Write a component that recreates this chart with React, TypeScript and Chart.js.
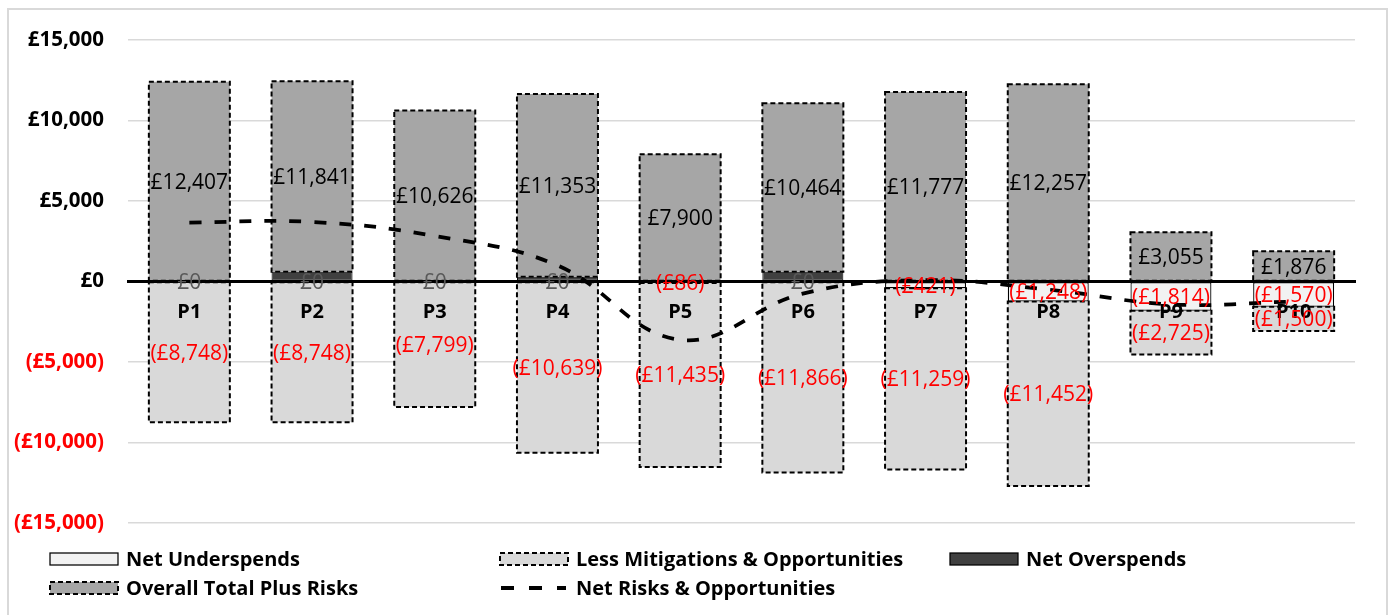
import React, { useEffect, useRef } from 'react';
import { Chart, registerables } from 'chart.js';

Chart.register(...registerables);

const categories = ['P1', 'P2', 'P3', 'P4', 'P5', 'P6', 'P7', 'P8', 'P9', 'P10'];
const netUnderspends = [0, 0, 0, 0, -86, 0, -421, -1248, -1814, -1570];
const lessMitigations = [-8748, -8748, -7799, -10639, -11435, -11866, -11259, -11452, -2725, -1500];
const netOverspends = [0, 600, 0, 300, 0, 600, 0, 0, 0, 0];
const overallTotal = [12407, 11841, 10626, 11353, 7900, 10464, 11777, 12257, 3055, 1876];
const netRisks = [3660, 3700, 2830, 1000, -3620, -750, 80, -500, -1420, -1250];
const yMin = -15000;
const yMax = 15000;
const yStep = 5000;

const FONT = '"Open Sans", "Noto Sans", sans-serif';
const RED = '#ff0000';

const fmt = (v: number) =>
  v < 0 ? `(£${Math.abs(v).toLocaleString('en-GB')})` : `£${v.toLocaleString('en-GB')}`;

const framePlugin = {
  id: 'frame',
  beforeDraw(chart: any) {
    const { ctx, width, height } = chart;
    ctx.save();
    ctx.fillStyle = '#ffffff';
    ctx.fillRect(0, 0, width, height);
    ctx.strokeStyle = '#d9d9d9';
    ctx.lineWidth = 2;
    ctx.strokeRect(1, 1, width - 2, height + 4);
    ctx.restore();
  },
};

const dashedBorderPlugin = {
  id: 'dashedBorder',
  afterDatasetDraw(chart: any, args: any) {
    const ds = chart.data.datasets[args.index];
    if (!ds.dashedBorder) return;
    const { ctx } = chart;
    ctx.save();
    ctx.strokeStyle = '#000';
    ctx.lineWidth = 2;
    ctx.setLineDash([5, 3]);
    args.meta.data.forEach((el: any) => {
      const { x, y, base, width } = el.getProps(['x', 'y', 'base', 'width'], true);
      const h = Math.abs(base - y);
      if (h < 0.5) return;
      ctx.strokeRect(x - width / 2, Math.min(y, base), width, h);
    });
    ctx.restore();
  },
};

const labelPlugin = {
  id: 'barLabels',
  afterDraw(chart: any) {
    const { ctx } = chart;
    ctx.save();
    ctx.font = `21px ${FONT}`;
    ctx.textAlign = 'center';
    ctx.textBaseline = 'middle';
    chart.data.datasets.forEach((ds: any, i: number) => {
      if (!ds.labelColor) return;
      const meta = chart.getDatasetMeta(i);
      meta.data.forEach((el: any, j: number) => {
        const v = ds.data[j];
        const { x, y, base } = el.getProps(['x', 'y', 'base'], true);
        ctx.fillStyle = ds.labelColor(v);
        ctx.fillText(fmt(v), x, (y + base) / 2 + 1.5);
      });
    });
    ctx.restore();
  },
};

const legendPlugin = {
  id: 'customLegend',
  afterDraw(chart: any) {
    const { ctx } = chart;
    const ds = chart.data.datasets;
    const find = (label: string) => ds.find((d: any) => d.label === label);
    const items = [
      { label: 'Net Underspends', col: 0, row: 0 },
      { label: 'Less Mitigations & Opportunities', col: 1, row: 0 },
      { label: 'Net Overspends', col: 2, row: 0 },
      { label: 'Overall Total Plus Risks', col: 0, row: 1 },
      { label: 'Net Risks & Opportunities', col: 1, row: 1 },
    ];
    const colX = [43, 493, 943];
    const rowY = [551, 580];
    const sw = 68;
    const sh = 12;
    ctx.save();
    items.forEach((it) => {
      const d = find(it.label);
      const x = colX[it.col];
      const y = rowY[it.row];
      if (d.type === 'line') {
        ctx.strokeStyle = '#000';
        ctx.lineWidth = 4;
        ctx.setLineDash([13, 15]);
        ctx.beginPath();
        ctx.moveTo(x + 1, y);
        ctx.lineTo(x + sw - 2, y);
        ctx.stroke();
        ctx.setLineDash([]);
      } else {
        ctx.fillStyle = d.backgroundColor;
        ctx.fillRect(x, y - sh / 2, sw, sh);
        ctx.strokeStyle = '#000';
        ctx.lineWidth = d.dashedBorder ? 2 : 1.25;
        ctx.setLineDash(d.dashedBorder ? [5, 3] : []);
        ctx.strokeRect(x, y - sh / 2, sw, sh);
        ctx.setLineDash([]);
      }
      ctx.fillStyle = '#000';
      ctx.font = `bold 20px ${FONT}`;
      ctx.textAlign = 'left';
      ctx.textBaseline = 'middle';
      ctx.fillText(it.label, x + sw + 8, y + 1);
    });
    ctx.restore();
  },
};

export default function App() {
  const ref = useRef<HTMLCanvasElement | null>(null);

  useEffect(() => {
    if (!ref.current) return;
    const chart = new Chart(ref.current, {
      type: 'bar',
      data: {
        labels: categories,
        datasets: [
          {
            type: 'line',
            label: 'Net Risks & Opportunities',
            data: netRisks,
            borderColor: '#000',
            backgroundColor: '#000',
            borderWidth: 3.75,
            borderDash: [12, 13],
            tension: 0.4,
            pointRadius: 0,
            fill: false,
          } as any,
          {
            label: 'Net Underspends',
            data: netUnderspends,
            backgroundColor: '#f2f2f2',
            borderColor: '#000',
            borderWidth: 1.25,
            borderSkipped: false,
            labelColor: (v: number) => (v < 0 ? RED : '#595959'),
          } as any,
          {
            label: 'Less Mitigations & Opportunities',
            data: lessMitigations,
            backgroundColor: '#d9d9d9',
            borderWidth: 0,
            dashedBorder: true,
            labelColor: () => RED,
          } as any,
          {
            label: 'Net Overspends',
            data: netOverspends,
            backgroundColor: '#404040',
            borderColor: '#000',
            borderWidth: 1,
            borderSkipped: false,
          } as any,
          {
            label: 'Overall Total Plus Risks',
            data: overallTotal,
            backgroundColor: '#a6a6a6',
            borderWidth: 0,
            dashedBorder: true,
            labelColor: () => '#000',
          } as any,
        ],
      },
      options: {
        responsive: false,
        animation: false,
        events: [],
        layout: { padding: { left: 0, top: 32, right: 33, bottom: 92 } },
        datasets: {
          bar: { categoryPercentage: 0.66, barPercentage: 1 },
        },
        plugins: {
          legend: { display: false },
          tooltip: { enabled: false },
        },
        scales: {
          x: {
            stacked: true,
            position: { y: 0 } as any,
            grid: { display: false, drawTicks: false },
            border: { display: true, color: '#000', width: 3, z: 1 } as any,
            ticks: {
              z: 1,
              padding: 19,
              color: '#000',
              font: { family: FONT, size: 20, weight: 'bold' },
              maxRotation: 0,
              autoSkip: false,
            },
          },
          y: {
            stacked: true,
            min: yMin,
            max: yMax,
            afterFit: (scale: any) => {
              scale.width = 121;
            },
            grid: {
              color: '#d9d9d9',
              lineWidth: 1.5,
              drawTicks: true,
              tickLength: 20,
              tickColor: 'rgba(0,0,0,0)',
            },
            border: { display: false },
            ticks: {
              stepSize: yStep,
              padding: 4,
              color: (ctx: any) => (ctx.tick && ctx.tick.value < 0 ? RED : '#000'),
              font: { family: FONT, size: 20.5, weight: 'bold' },
              callback: (v: any) => fmt(Number(v)),
            },
          },
        },
      },
      plugins: [framePlugin, dashedBorderPlugin, labelPlugin, legendPlugin],
    });
    return () => chart.destroy();
  }, []);

  return (
    <div style={{ position: 'absolute', left: 7, top: 8, width: 1381, height: 607 }}>
      <canvas ref={ref} width={1381} height={607} style={{ display: 'block' }} />
    </div>
  );
}
